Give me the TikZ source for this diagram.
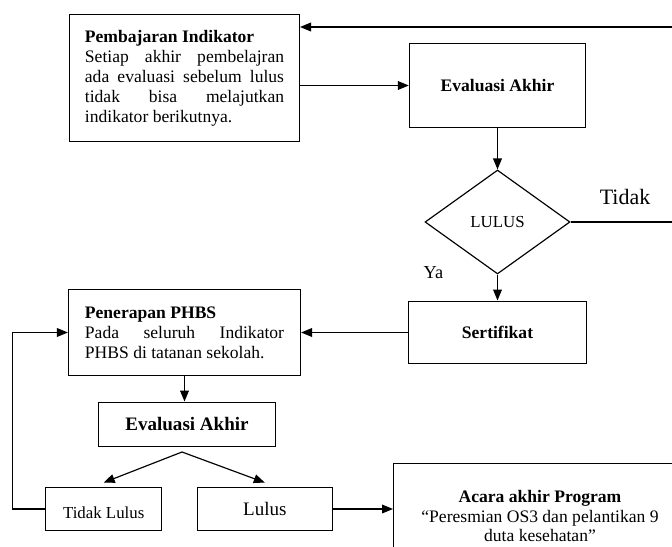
\documentclass[tikz,border=0pt]{standalone}
\usepackage{fontspec}
\setmainfont{Liberation Serif}
\usetikzlibrary{positioning,shapes.geometric,arrows.meta}

\tikzset{
  kotak/.style={draw,thick,rectangle,inner sep=0pt},
  isi/.style={font=\fontsize{12}{13.6}\selectfont},
  tebal/.style={font=\fontsize{12}{13.6}\selectfont\bfseries}
}

\begin{document}
\begin{tikzpicture}[x=0.024cm,y=-0.024cm,thick,>={Triangle[length=7.5pt,width=6pt]}]
\useasboundingbox (0,0) rectangle (672,547);
\clip (0,0) rectangle (672,547);
%\draw[help lines,step=20] (0,0) grid (672,547);
\node[kotak,isi,minimum width=157pt,minimum height=87pt,text width=136pt,align=justify] (indikator) at (184.5,78)
  {\textbf{Pembajaran Indikator}\\ Setiap akhir pembelajran\linebreak ada evaluasi sebelum lulus\linebreak tidak bisa melajutkan\linebreak indikator berikutnya.};
\node[kotak,tebal,minimum width=120.4pt,minimum height=57.8pt] (evaluasi1) at (497.5,85.5) {Evaluasi Akhir};
\node[draw,thick,diamond,aspect=1.4,inner sep=0pt,minimum width=99pt,minimum height=71pt,font=\fontsize{11.5}{13}\selectfont] (cek) at (497.5,222) {LULUS};
\node[font=\fontsize{15}{17}\selectfont] (tidak) at (625,197) {Tidak};
\node[font=\fontsize{12.5}{14}\selectfont] (ya) at (433.5,273) {Ya};
\node[kotak,tebal,minimum width=121.8pt,minimum height=42.9pt] (sertifikat) at (497.5,332.5) {Sertifikat};
\node[kotak,isi,minimum width=158.5pt,minimum height=59.2pt,text width=136pt,align=justify] (phbs) at (184.5,332.5)
  {\textbf{Penerapan PHBS}\\ Pada seluruh Indikator\linebreak PHBS di tatanan sekolah.};
\node[kotak,font=\fontsize{13}{15}\selectfont\bfseries,minimum width=121pt,minimum height=30.6pt] (evaluasi2) at (187,424.5) {Evaluasi Akhir};
\node[kotak,font=\fontsize{11.5}{13}\selectfont,text height=13pt,text depth=0pt,minimum width=79pt,minimum height=29.3pt] (tidaklulus) at (103.7,509) {Tidak Lulus};
\node[kotak,font=\fontsize{13}{15}\selectfont,minimum width=92pt,minimum height=29.3pt] (lulus) at (264.8,509) {Lulus};
\node[kotak,isi,minimum width=200pt,minimum height=72pt,align=center] (acara) at (540,516)
  {\textbf{Acara akhir Program}\\ “Peresmian OS3 dan pelantikan 9\\ duta kesehatan”};
\coordinate (kanan) at (700,27);
\coordinate (cabang) at (182,452);
% panah
\draw[->] (indikator.east |- evaluasi1.west) -- (evaluasi1.west);
\draw[->] (evaluasi1.south) -- (cek.north);
\draw[->] (cek.south) -- (sertifikat.north);
\draw[->] (cek.east) -| (kanan) -- (kanan -| indikator.east);
\draw[->] (sertifikat.west) -- (phbs.east);
\draw[->] (phbs.south) -- (phbs.south |- evaluasi2.north);
\draw[->] (cabang) -- ([yshift=3pt]tidaklulus.north);
\draw[->] (cabang) -- ([yshift=3pt]lulus.north);
\draw[->] (tidaklulus.west) -- ++(-33,0) |- (phbs.west);
\draw[->] (lulus.east) -- (lulus.east -| acara.west);
\end{tikzpicture}
\end{document}
